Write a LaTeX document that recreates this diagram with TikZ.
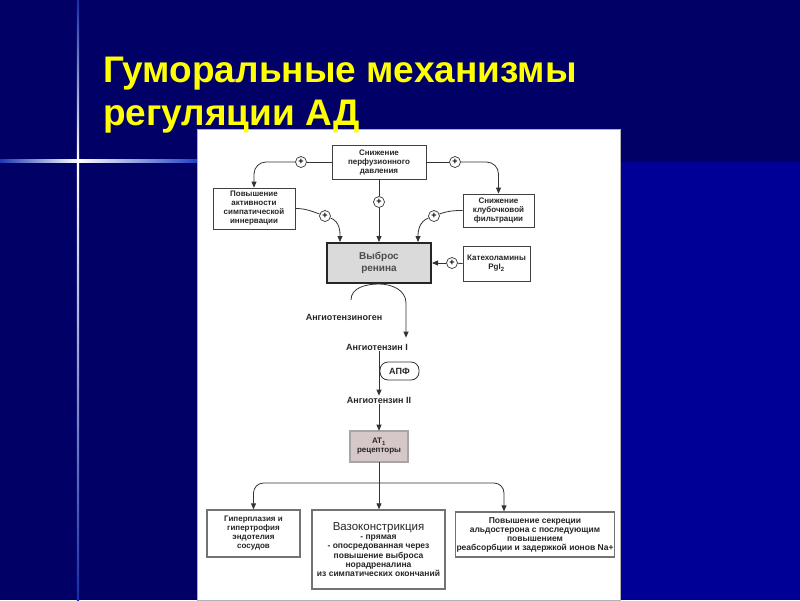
\documentclass[tikz,border=0pt]{standalone}
\usepackage{fontspec}
\setmainfont{Liberation Sans}
\usetikzlibrary{arrows.meta,positioning}
\definecolor{navy}{RGB}{0,0,102}
\definecolor{deepblue}{RGB}{0,0,150}
\definecolor{flare}{RGB}{60,110,255}
\definecolor{titleyellow}{RGB}{255,255,0}
\definecolor{reninfill}{RGB}{218,218,218}
\definecolor{atfill}{RGB}{214,200,200}

\begin{document}
\begin{tikzpicture}[x=1pt,y=-1pt,
  box/.style={draw=black!75,line width=0.8pt,fill=white,align=center,inner sep=1pt,
              font=\fontsize{8}{9}\selectfont\bfseries,text=black!85},
  effbox/.style={box,draw=black!55,line width=1.3pt},
  plus/.style={circle,draw=black!80,line width=0.7pt,fill=white,inner sep=0pt,
               minimum size=11pt,font=\fontsize{9}{9}\selectfont\bfseries},
  lbl/.style={font=\fontsize{9}{10}\selectfont\bfseries,text=black!85,inner sep=1pt},
  conn/.style={draw=black!80,line width=0.8pt},
  arr/.style={conn,-{Triangle[length=6pt,width=5pt]}}]
\useasboundingbox (0,0) rectangle (800,600);
\fill[navy] (0,0) rectangle (800,600);
\fill[deepblue] (400,162) rectangle (800,600);
\shade[left color=flare!50!navy,right color=white] (0,159.8) rectangle (78,162.2);
\shade[left color=white,right color=flare!60!navy] (78,159.8) rectangle (197,162.2);
\shade[top color=flare!40!navy,bottom color=white] (76.8,0) rectangle (79.2,161);
\shade[top color=white,bottom color=flare!40!navy] (76.8,161) rectangle (79.2,600);
\fill[white,draw=black!30,line width=0.5pt] (197,129) rectangle (620,600);

\node[anchor=base west,inner sep=0,text=titleyellow,
  font=\fontsize{37}{43}\selectfont\bfseries] (title1) at (103,82) {Гуморальные механизмы};
\node[anchor=base west,inner sep=0,text=titleyellow,
  font=\fontsize{37}{43}\selectfont\bfseries] (title2) at (103,125) {регуляции АД};

\node[box,minimum width=94,minimum height=34] (perf) at (379,162) {Снижение\\перфузионного\\давления};
\node[box,minimum width=82,minimum height=41] (symp) at (254,208.5) {Повышение\\активности\\симпатической\\иннервации};
\node[box,minimum width=71,minimum height=33] (filt) at (498.5,210.5) {Снижение\\клубочковой\\фильтрации};
\node[box,draw=black!85,line width=2pt,fill=reninfill,minimum width=104,minimum height=40,
  font=\fontsize{10}{12}\selectfont\bfseries,text=black!70] (renin) at (379,263) {Выброс\\ренина};
\node[box,minimum width=67,minimum height=35] (cat) at (496.5,263.5) {Катехоламины\\PgI\textsubscript{2}};

\node[plus] (pT1) at (301,162) {+};
\node[plus] (pT2) at (455,162) {+};
\node[plus] (pC) at (379,202) {+};
\node[plus] (pL) at (325,216) {+};
\node[plus] (pR) at (434,216) {+};
\node[plus] (pK) at (452,263) {+};

\node[lbl] (agen) at (344,317) {Ангиотензиноген};
\node[lbl] (angI) at (377,347) {Ангиотензин I};
\node[draw=black!80,line width=0.8pt,rounded corners=8pt,minimum width=39,minimum height=18,
  inner sep=0,font=\fontsize{9}{10}\selectfont\bfseries,text=black!85] (apf) at (399.5,371) {АПФ};
\node[lbl] (angII) at (379,400) {Ангиотензин II};
\node[box,fill=atfill,draw=black!70,line width=0.6pt,double=black!35,double distance=1.4pt,
  minimum width=58,minimum height=31] (at1) at (379,446.5) {AT\textsubscript{1}\\рецепторы};

\node[effbox,minimum width=93,minimum height=47] (hyper) at (253.5,533.5) {Гиперплазия и\\гипертрофия\\эндотелия\\сосудов};
\node[effbox,minimum width=133,minimum height=79,font=\fontsize{8.5}{9.3}\selectfont\bfseries] (vaso) at (378.5,549.5)
  {{\fontsize{11.5}{13}\selectfont\mdseries Вазоконстрикция}\\- прямая\\- опосредованная через\\повышение выброса\\норадреналина\\из симпатических окончаний};
\node[effbox,minimum width=156,minimum height=45,font=\fontsize{8.5}{9}\selectfont\bfseries] (aldo) at (535,534.5)
  {Повышение секреции\\альдостерона с последующим\\повышением\\реабсорбции и задержкой ионов Na+};

\coordinate (agst) at (351,300);
\coordinate (agbend) at (406,303);
\coordinate (jn) at (379,483);

\draw[conn] (perf.west) -- (pT1);
\draw[arr,rounded corners=12pt] (pT1) -| (symp.north);
\draw[conn] (perf.east) -- (pT2);
\draw[arr,rounded corners=12pt] (pT2) -| (filt.north);
\draw[conn] (perf.south) -- (pC);
\draw[arr] (pC) -- (renin.north);
\draw[conn] (symp.east) to[out=0,in=160] (pL);
\draw[arr] (pL) to[out=-20,in=90] ([xshift=-39pt]renin.north);
\draw[conn] (filt.west) to[out=180,in=20] (pR);
\draw[arr] (pR) to[out=200,in=90] ([xshift=39pt]renin.north);
\draw[conn] (cat.west) -- (pK);
\draw[arr] (pK) -- (renin.east);
\draw[arr] (agst) to[out=90,in=180] (renin.south) to[out=0,in=90] (agbend)
  -- ([xshift=29pt,yshift=5pt]angI.north);
\draw[arr] (angII.north |- angI.south) -- (angII.north);
\draw[arr] (angII.south) -- (at1.north);
\draw[conn] (at1.south) -- (jn);
\draw[arr,rounded corners=10pt] (jn) -| (hyper.north);
\draw[arr] (jn) -- (jn |- vaso.north);
\draw[arr,rounded corners=10pt] (jn) -| ([xshift=-31pt]aldo.north);
\end{tikzpicture}
\end{document}
